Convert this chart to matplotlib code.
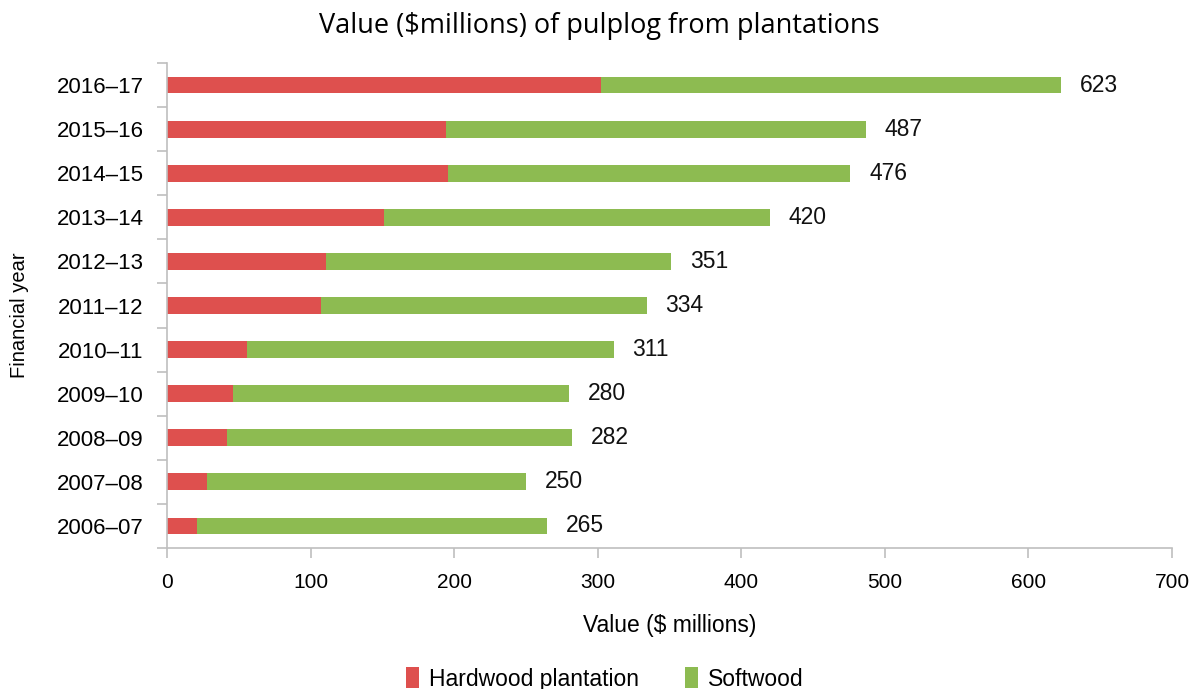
import matplotlib.pyplot as plt
import numpy as np

years = ['2006–07', '2007–08', '2008–09', '2009–10', '2010–11', '2011–12',
         '2012–13', '2013–14', '2014–15', '2015–16', '2016–17']
totals = [265, 250, 282, 280, 311, 334, 351, 420, 476, 487, 623]
hardwood = [21, 28, 42, 46, 56, 107, 111, 151, 196, 194, 302]
softwood = [t - h for t, h in zip(totals, hardwood)]

rojo = '#DE504E'
verde = '#8DBB51'
gris = '#BFBFBF'

plt.rcParams['font.family'] = ['Liberation Sans', 'DejaVu Sans']

fig = plt.figure(figsize=(11.98, 6.89), dpi=100)
ax = fig.add_axes([167 / 1198, 1 - 548 / 689, (1172 - 167) / 1198, (548 - 63) / 689])

y = np.arange(len(years))
ax.barh(y, hardwood, height=0.38, color=rojo, label='Hardwood plantation')
ax.barh(y, softwood, left=hardwood, height=0.38, color=verde, label='Softwood')

for yi, t in zip(y, totals):
    ax.text(t + 13, yi, str(t), va='center', ha='left', fontsize=16.5, color='#111111')

ax.set_xlim(0, 700)
ax.set_ylim(-0.5, len(years) - 0.5)
ax.set_xticks(range(0, 701, 100))
ax.set_yticks(y)
ax.set_yticklabels(years)
ax.set_yticks(np.arange(-0.5, len(years), 1), minor=True)
ax.tick_params(axis='y', which='major', length=0, labelsize=16, pad=17)
ax.tick_params(axis='y', which='minor', length=7, color=gris, width=1.2)
ax.tick_params(axis='x', which='major', length=7, color=gris, width=1.2, labelsize=15, pad=11)

for s in ['top', 'right']:
    ax.spines[s].set_visible(False)
for s in ['left', 'bottom']:
    ax.spines[s].set_color(gris)
    ax.spines[s].set_linewidth(1.2)

ax.set_xlabel('Value ($ millions)', fontsize=16.5, labelpad=16)
fig.text(20 / 1198, 1 - 315 / 689, 'Financial year', rotation=90, fontsize=14.5,
         ha='center', va='center')
fig.text(0.5, 1 - 26 / 689, 'Value ($millions) of pulplog from plantations',
         fontsize=19.5, ha='center', va='center', family=['Open Sans', 'DejaVu Sans'])

fig.legend(loc='center', bbox_to_anchor=(0.505, 1 - 679 / 689), ncol=2, frameon=False,
           fontsize=16.5, handlelength=0.55, handleheight=1.0, handletextpad=0.45,
           columnspacing=2.0)

fig.savefig('out.png', dpi=100)
